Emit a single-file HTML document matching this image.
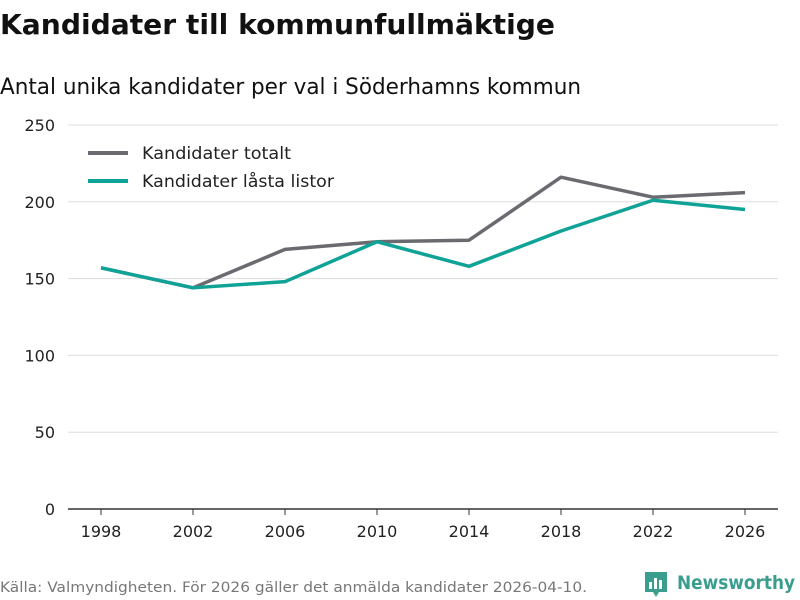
<!DOCTYPE html>
<html><head><meta charset="utf-8"><style>
body{margin:0;background:#fff;font-family:"DejaVu Sans","Liberation Sans",sans-serif;}
#wrap{position:relative;width:800px;height:600px;overflow:hidden;}
</style></head><body>
<div id="wrap">
<svg id="chart" width="800" height="600" font-family="DejaVu Sans, Liberation Sans, sans-serif"></svg>
</div>
<script>
const years = [1998, 2002, 2006, 2010, 2014, 2018, 2022, 2026];
const totalt = [157, 144, 169, 174, 175, 216, 203, 206];
const lasta = [157, 144, 148, 174, 158, 181, 201, 195];
const yTicks = [0, 50, 100, 150, 200, 250];

const NS = "http://www.w3.org/2000/svg";
const svg = document.getElementById('chart');
function mk(tag, attrs, parent) {
  const e = document.createElementNS(NS, tag);
  for (const k in attrs) e.setAttribute(k, attrs[k]);
  (parent || svg).appendChild(e);
  return e;
}
const x = i => 101 + (745 - 101) * i / (years.length - 1);
const y = v => 509 - v * (384 / 250);

let t = mk('text', {x: 0, y: 34, 'font-size': 28, 'font-weight': 'bold', fill: '#111', textLength: 555, lengthAdjust: 'spacingAndGlyphs'});
t.textContent = 'Kandidater till kommunfullmäktige';


t = mk('text', {x: 0, y: 94, 'font-size': 22, fill: '#111', textLength: 581, lengthAdjust: 'spacingAndGlyphs'});
t.textContent = 'Antal unika kandidater per val i Söderhamns kommun';



yTicks.forEach(v => {
  if (v > 0) {
    const l = mk('line', {x1: 68, x2: 778, y1: y(v), y2: y(v), stroke: '#ddd', 'stroke-width': 1});
    
    
  }
  const tx = mk('text', {x: 55, y: y(v) + 6, 'font-size': 16, 'text-anchor': 'end', fill: '#222'});
  tx.textContent = v;
  
  
});
const ax = mk('line', {x1: 68, x2: 778, y1: 509, y2: 509, stroke: '#333', 'stroke-width': 1.5});


years.forEach((yr, i) => {
  const tk = mk('line', {x1: x(i), x2: x(i), y1: 509, y2: 515, stroke: '#333'});
  
  
  const tx = mk('text', {x: x(i), y: 537, 'font-size': 16, 'text-anchor': 'middle', fill: '#222'});
  tx.textContent = yr;
  
  
});

function series(vals, color, name) {
  const p = mk('polyline', {points: vals.map((v, i) => x(i) + ',' + y(v)).join(' '), fill: 'none', stroke: color, 'stroke-width': 3.5, 'stroke-linejoin': 'round'});
  
  
}
series(totalt, '#6b6a70', 'line-kandidater-totalt');
series(lasta, '#0fa297', 'line-kandidater-lasta-listor');

[['Kandidater totalt', '#6b6a70', 153, 149], ['Kandidater låsta listor', '#0fa297', 181, 192]].forEach(([lab, c, ly, w]) => {
  const g = mk('g', {});
  
  
  mk('line', {x1: 88, x2: 128, y1: ly, y2: ly, stroke: c, 'stroke-width': 4}, g);
  const tx = mk('text', {x: 142, y: ly + 6, 'font-size': 17, fill: '#222', textLength: w, lengthAdjust: 'spacingAndGlyphs'}, g);
  tx.textContent = lab;
});

t = mk('text', {x: 0, y: 592, 'font-size': 14, fill: '#777', textLength: 587, lengthAdjust: 'spacingAndGlyphs'});
t.textContent = 'Källa: Valmyndigheten. För 2026 gäller det anmälda kandidater 2026-04-10.';



const lg = mk('g', {});


mk('path', {d: 'M645 572 h22 v20 h-8 l-3 5 l-3 -5 h-8 z', fill: '#3a9e8f'}, lg);
mk('rect', {x: 649, y: 582, width: 3, height: 7, fill: '#fff'}, lg);
mk('rect', {x: 654, y: 578, width: 3, height: 11, fill: '#fff'}, lg);
mk('rect', {x: 659, y: 580, width: 3, height: 9, fill: '#fff'}, lg);
const lt = mk('text', {x: 677, y: 589, 'font-size': 19, 'font-weight': 'bold', fill: '#3a9e8f', textLength: 118, lengthAdjust: 'spacingAndGlyphs'}, lg);
lt.textContent = 'Newsworthy';
</script>
</body></html>
